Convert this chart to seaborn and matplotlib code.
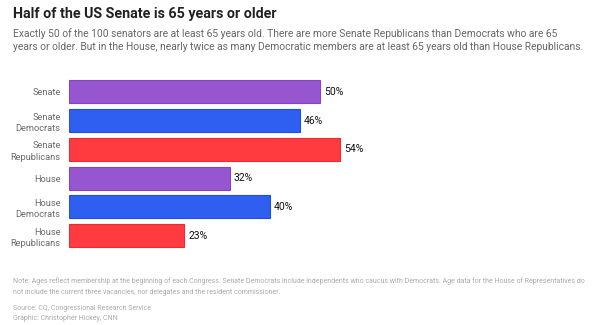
import matplotlib
matplotlib.use("Agg")
import matplotlib.pyplot as plt
import seaborn as sns
import pandas as pd

categories = ["Senate", "Senate\nDemocrats", "Senate\nRepublicans", "House", "House\nDemocrats", "House\nRepublicans"]
values = [50, 46, 54, 32, 40, 23]
colors = ["#9656CF", "#2E5FF0", "#FF3B40", "#9656CF", "#2E5FF0", "#FF3B40"]
edges = ["#8644C4", "#1F4FE0", "#EE2A30", "#8644C4", "#1F4FE0", "#EE2A30"]

sns.set_theme(style="white")
plt.rcParams["font.family"] = ["Roboto", "DejaVu Sans"]

W, H = 600, 325
fig = plt.figure(figsize=(6, 3.25), dpi=100)
fig.patch.set_facecolor("white")

left, right = 69, 69 + 502
top, bottom = 77.6, 250.0
ax = fig.add_axes([left / W, 1 - bottom / H, (right - left) / W, (bottom - top) / H])

df = pd.DataFrame({"cat": categories, "val": values})
sns.barplot(data=df, x="val", y="cat", hue="cat", palette=colors, legend=False,
            width=0.8, ax=ax, orient="h", saturation=1)
for p, ec in zip(ax.patches, edges):
    p.set_edgecolor(ec)
    p.set_linewidth(0.8)

ax.set_xlim(0, 100)
ax.set_xlabel("")
ax.set_ylabel("")
ax.set_xticks([])
for s in ax.spines.values():
    s.set_visible(False)
ax.tick_params(axis="y", length=0, pad=6)
for lab in ax.get_yticklabels():
    lab.set_fontsize(6.7)
    lab.set_color("#6a6a6a")
    lab.set_linespacing(1.3)
    lab.set_multialignment("right")

for i, v in enumerate(values):
    ax.text(v + 0.8, i, f"{v}%", va="center", ha="left", fontsize=7.5, color="#111111")

fig.text(13 / W, 1 - 14 / H, "Half of the US Senate is 65 years or older", fontsize=10.3,
         fontweight="bold", color="#222222", va="center", ha="left")
fig.text(13 / W, 1 - 40 / H,
         "Exactly 50 of the 100 senators are at least 65 years old. There are more Senate Republicans than Democrats who are 65\n"
         "years or older. But in the House, nearly twice as many Democratic members are at least 65 years old than House Republicans.",
         fontsize=7.4, color="#666666", va="center", ha="left", linespacing=1.35)
nfs = 5.05
fig.text(13 / W, 1 - 286.5 / H,
         "Note: Ages reflect membership at the beginning of each Congress. Senate Democrats include independents who caucus with Democrats. Age data for the House of Representatives do\n"
         "not include the current three vacancies, nor delegates and the resident commissioner.",
         fontsize=nfs, color="#aaaaaa", va="center", ha="left", linespacing=1.75)
fig.text(13 / W, 1 - 308 / H, "Source: CQ, Congressional Research Service", fontsize=nfs,
         color="#aaaaaa", va="center", ha="left")
fig.text(13 / W, 1 - 319 / H, "Graphic: Christopher Hickey, CNN", fontsize=nfs,
         color="#aaaaaa", va="center", ha="left")

fig.savefig("out.png", dpi=100, facecolor="white")
